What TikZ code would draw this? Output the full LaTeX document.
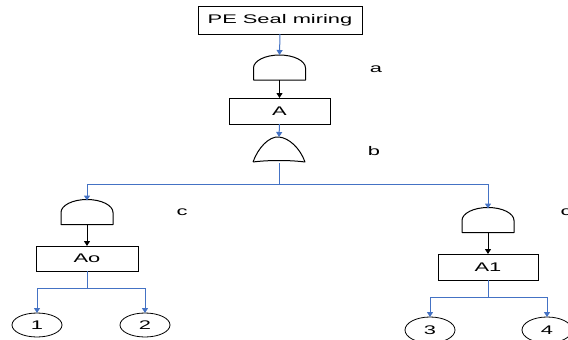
\documentclass[tikz,border=0pt]{standalone}
\usepackage{graphicx}
\usepackage{fontspec}
\setmainfont{Liberation Sans}
\usetikzlibrary{shapes.geometric,arrows.meta}
\definecolor{lnblue}{HTML}{4472C4}
\newcommand\stx[1]{\scalebox{1.75}[1]{#1}}
\tikzset{
  box/.style={draw=black,line width=0.8pt,rectangle,inner sep=0pt,outer sep=0pt,font=\fontsize{12.5}{14}\selectfont},
  evt/.style={draw=black,line width=0.8pt,ellipse,minimum width=50pt,inner sep=0pt,outer sep=0pt,font=\fontsize{12.5}{14}\selectfont},
  gatebox/.style={rectangle,minimum width=52pt,minimum height=25pt,inner sep=0pt,outer sep=0pt},
  gateline/.style={draw=black,line width=1pt,line join=round},
  lbl/.style={font=\fontsize{12.5}{14}\selectfont,inner sep=0pt},
  bl/.style={draw=lnblue,line width=1pt},
  bla/.style={bl,-{Triangle[width=6pt,length=5pt]}},
  ka/.style={draw=black,line width=1pt,-{Triangle[width=6pt,length=5pt]}}
}
\begin{document}
\begin{tikzpicture}[x=1pt,y=-1pt]
\useasboundingbox[fill=white] (0,0) rectangle (568,340);
% top event
\node[box,minimum width=164pt,minimum height=28pt] (top) at (280,20) {\stx{PE Seal miring}};
% gate a (AND)
\node[gatebox] (ga) at (279.5,67.5) {};
\draw[gateline] (ga.south west) -- ++(0,-12) arc[start angle=180,end angle=0,x radius=26pt,y radius=13pt] -- (ga.south east) -- cycle;
\node[lbl] (la) at (376,69) {\stx{a}};
% box A
\node[box,minimum width=101pt,minimum height=26pt] (A) at (279.5,111) {\stx{A}};
% gate b (OR)
\node[gatebox] (gb) at (279,149.5) {};
\draw[gateline] (gb.south west) .. controls +(5,-14) and +(-10,-1) .. (gb.north) .. controls +(10,1) and +(-5,-14) .. (gb.south east) .. controls +(-15,-2) and +(15,-2) .. (gb.south west);
\node[lbl] (lb) at (374,151) {\stx{b}};
% left gate c
\node[gatebox] (gc1) at (87,212) {};
\draw[gateline] (gc1.south west) -- ++(0,-12) arc[start angle=180,end angle=0,x radius=26pt,y radius=13pt] -- (gc1.south east) -- cycle;
\node[lbl] (lc1) at (182,212) {\stx{c}};
% right gate c
\node[gatebox] (gc2) at (488,220) {};
\draw[gateline] (gc2.south west) -- ++(0,-12) arc[start angle=180,end angle=0,x radius=26pt,y radius=13pt] -- (gc2.south east) -- cycle;
\node[lbl] (lc2) at (566,212) {\stx{c}};
% boxes Ao, A1
\node[box,minimum width=102pt,minimum height=25pt] (Ao) at (87,258.5) {\stx{Ao}};
\node[box,minimum width=100pt,minimum height=26pt] (A1) at (488,267) {\stx{A1}};
% basic events
\node[evt,minimum height=24pt] (e1) at (37,325) {\stx{1}};
\node[evt,minimum height=24pt] (e2) at (145,325) {\stx{2}};
\node[evt,minimum height=26pt] (e3) at (430,330) {\stx{3}};
\node[evt,minimum height=26pt] (e4) at (547,330) {\stx{4}};
% split points
\coordinate (sb) at (279,184);
\coordinate (s0) at (87,288);
\coordinate (s1) at (488,297);
% connectors
\draw[bla] (top.south) -- (ga.north);
\draw[ka] (ga.south) -- (A.north);
\draw[bla] (A.south) -- (gb.north);
\draw[bl] ([yshift=-1pt]gb.south) -- (sb);
\draw[bla] (sb) -| ([yshift=-1pt]gc1.north);
\draw[bla] (sb) -| ([yshift=-1pt]gc2.north);
\draw[ka] (gc1.south) -- (Ao.north);
\draw[ka] (gc2.south) -- (A1.north);
\draw[bl] (Ao.south) -- (s0);
\draw[bla] (s0) -| (e1.north);
\draw[bla] (s0) -| (e2.north);
\draw[bl] (A1.south) -- (s1);
\draw[bla] (s1) -| (e3.north);
\draw[bla] (s1) -| (e4.north);
\end{tikzpicture}
\end{document}
